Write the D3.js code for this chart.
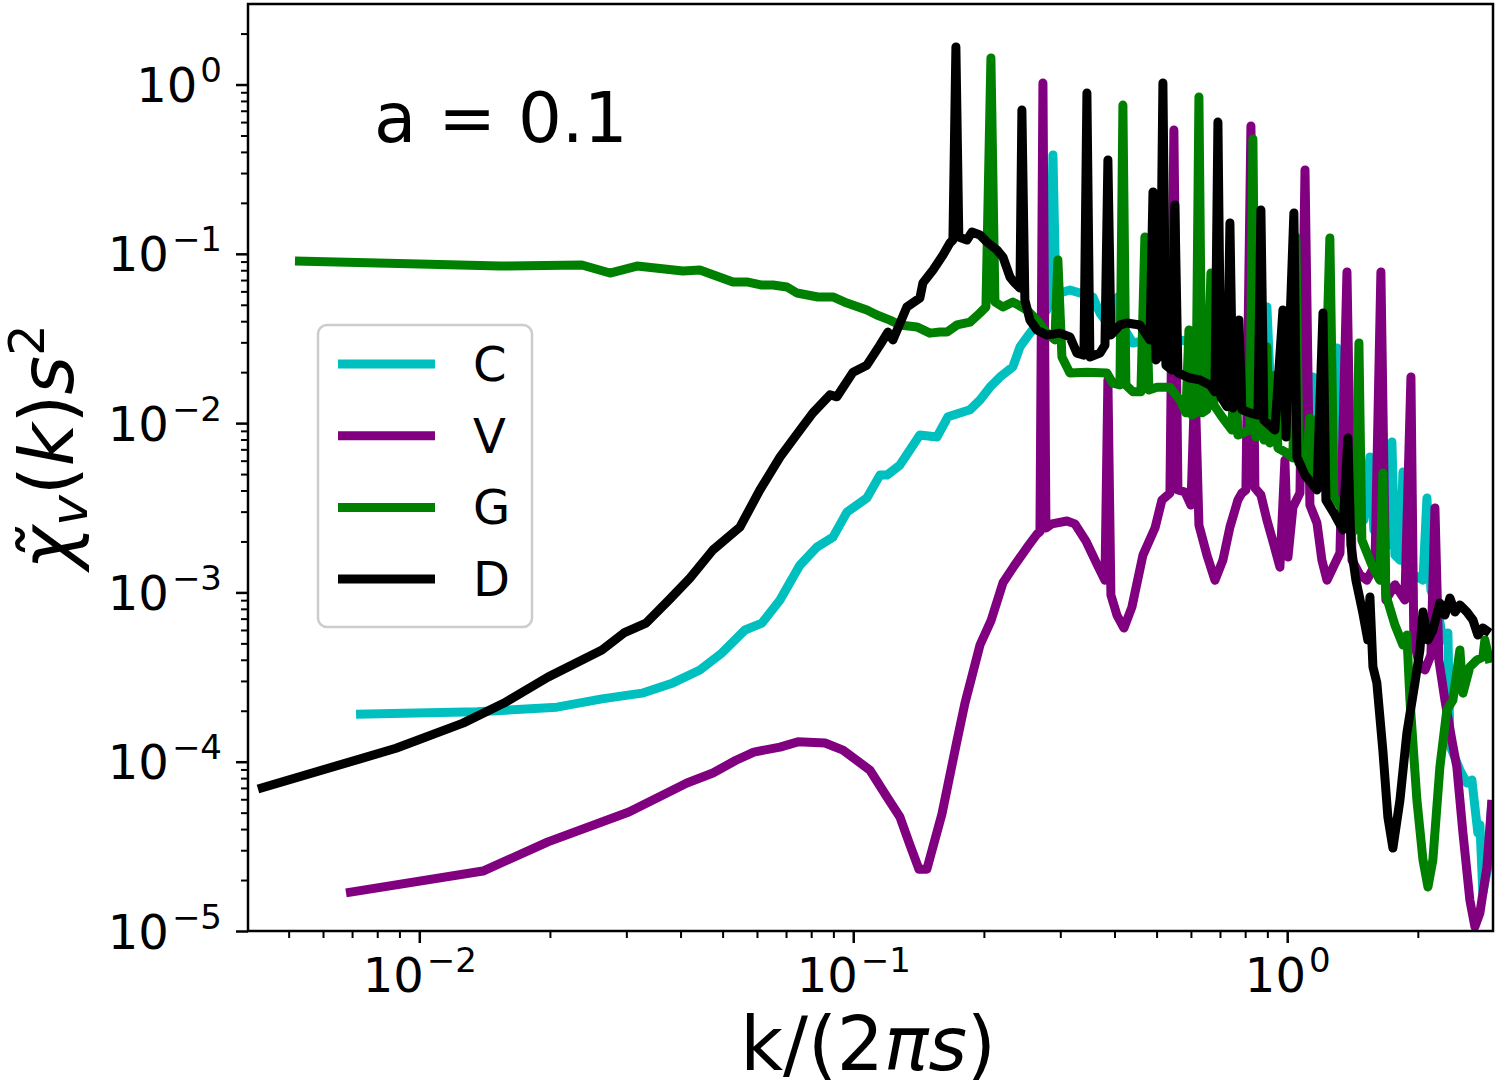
<!DOCTYPE html>
<html>
<head>
<meta charset="utf-8">
<script src="https://cdn.jsdelivr.net/npm/d3@7"></script>
<style>
  html, body { margin: 0; padding: 0; background: #fff; }
  svg { display: block; font-family: "DejaVu Sans", sans-serif; }
</style>
</head>
<body>
<div id="chart"></div>
<script>
// Series names and colours (legend order)
const seriesNames = ["C", "V", "G", "D"];
const seriesColors = ["#00bfbf", "#800080", "#008000", "#000000"];

// [k/(2πs), χ̃v(k)s²]
const seriesC = [
  [0.00715, 1.91e-4], [0.01358, 1.97e-4], [0.02076, 2.10e-4], [0.02636, 2.35e-4],
  [0.0326, 2.54e-4], [0.03841, 2.92e-4], [0.04432, 3.48e-4], [0.04982, 4.39e-4],
  [0.05629, 6.00e-4], [0.06161, 6.59e-4], [0.06779, 9.02e-4], [0.07537, 1.45e-3],
  [0.08247, 1.85e-3], [0.0898, 2.12e-3], [0.0967, 2.98e-3], [0.1075, 3.61e-3],
  [0.1152, 4.93e-3], [0.1196, 4.93e-3], [0.1281, 5.65e-3], [0.1424, 8.5e-3],
  [0.1559, 8.28e-3], [0.1653, 0.0109], [0.1858, 0.0120], [0.1959, 0.0137],
  [0.2065, 0.0163], [0.2178, 0.0187], [0.2333, 0.0215], [0.2422, 0.0282],
  [0.2554, 0.0340], [0.2693, 0.0406], [0.2795, 0.0466], [0.2840, 0.0533],
  [0.2885, 0.383], [0.2931, 0.0571], [0.2994, 0.0587], [0.3157, 0.0611],
  [0.3329, 0.0587], [0.3566, 0.0556], [0.3702, 0.0447], [0.3904, 0.0370],
  [0.4009, 0.0355], [0.4073, 0.0556], [0.4160, 0.0355], [0.4272, 0.0340],
  [0.4411, 0.0297], [0.4751, 0.0310], [0.5090, 0.0289], [0.5367, 0.0297],
  [0.5660, 0.0310], [0.5968, 0.0301], [0.6293, 0.0289], [0.6395, 0.0355],
  [0.6531, 0.0270], [0.6997, 0.0252], [0.7577, 0.0236], [0.8205, 0.0220],
  [0.8837, 0.0206], [0.8979, 0.0485], [0.9123, 0.0192], [0.9621, 0.0168],
  [1.014, 0.0137], [1.070, 0.0104], [1.128, 0.0085], [1.146, 0.0187],
  [1.171, 0.00795], [1.241, 0.00666], [1.281, 0.00605], [1.302, 0.0278],
  [1.323, 0.00528], [1.410, 0.00403], [1.471, 0.00351], [1.502, 0.00268],
  [1.551, 0.0063], [1.584, 0.00234], [1.661, 0.00204], [1.715, 0.00191],
  [1.743, 0.00773], [1.771, 0.00166], [1.819, 0.00155], [1.848, 0.00514],
  [1.877, 0.00141], [1.958, 0.00127], [2.055, 0.00118], [2.099, 0.00361],
  [2.144, 0.00103], [2.224, 7.87e-4], [2.284, 5.23e-4], [2.346, 5.76e-4],
  [2.371, 1.25e-4], [2.500, 8.93e-5], [2.595, 7.48e-5], [2.664, 7.8e-5],
  [2.750, 3.79e-5], [2.780, 4.23e-5], [2.824, 1.68e-5], [2.900, 2.39e-5],
  [2.963, 5.94e-5]
];

const seriesV = [
  [0.006779, 1.68e-5], [0.01402, 2.26e-5], [0.01979, 3.36e-5], [0.03041, 5.05e-5],
  [0.04138, 7.48e-5], [0.04749, 8.58e-5], [0.05367, 1.02e-4], [0.0590, 1.14e-4],
  [0.06779, 1.22e-4], [0.07457, 1.31e-4], [0.0861, 1.29e-4], [0.0947, 1.17e-4],
  [0.1092, 8.93e-5], [0.1196, 6.19e-5], [0.1281, 4.71e-5], [0.1351, 3.22e-5],
  [0.1417, 2.32e-5], [0.1478, 2.32e-5], [0.1601, 4.91e-5], [0.1734, 1.33e-4],
  [0.1809, 2.22e-4], [0.1959, 4.89e-4], [0.2076, 6.78e-4], [0.2213, 1.14e-3],
  [0.2346, 1.43e-3], [0.2540, 1.91e-3], [0.2651, 2.21e-3], [0.2693, 2.28e-3],
  [0.2736, 1.02], [0.2780, 2.40e-3], [0.2870, 2.54e-3], [0.3108, 2.64e-3],
  [0.3242, 2.54e-3], [0.3438, 2.01e-3], [0.3663, 1.43e-3], [0.3802, 1.18e-3],
  [0.3862, 0.0180], [0.3924, 9.65e-4], [0.4051, 7.35e-4], [0.4205, 6.16e-4],
  [0.4387, 8.20e-4], [0.4651, 1.66e-3], [0.4958, 2.40e-3], [0.5144, 3.51e-3],
  [0.5367, 3.86e-3], [0.5481, 0.539], [0.5600, 4.03e-3], [0.5812, 3.92e-3],
  [0.6000, 3.28e-3], [0.6128, 0.0180], [0.6260, 2.50e-3], [0.6531, 1.66e-3],
  [0.6815, 1.18e-3], [0.7109, 1.55e-3], [0.7379, 2.43e-3], [0.7698, 3.51e-3],
  [0.7863, 3.86e-3], [0.8032, 4.03e-3], [0.8249, 0.569], [0.8425, 4.14e-3],
  [0.8698, 3.76e-3], [0.8979, 2.68e-3], [0.9318, 1.91e-3], [0.9621, 1.41e-3],
  [0.9879, 6.05e-3], [1.004, 1.62e-3], [1.031, 3.19e-3], [1.070, 3.86e-3],
  [1.099, 0.313], [1.128, 3.28e-3], [1.171, 2.57e-3], [1.202, 1.55e-3],
  [1.235, 1.18e-3], [1.268, 1.36e-3], [1.323, 1.71e-3], [1.373, 0.0781],
  [1.410, 1.55e-3], [1.471, 1.27e-3], [1.526, 1.18e-3], [1.593, 1.45e-3],
  [1.644, 0.0781], [1.688, 9.02e-4], [1.771, 1.11e-3], [1.867, 9.02e-4],
  [1.928, 0.0187], [1.958, 5.23e-4], [2.022, 3.63e-4], [2.077, 3.48e-4],
  [2.144, 4.27e-4], [2.190, 3.15e-3], [2.236, 3.99e-4], [2.309, 2.31e-4],
  [2.396, 1.34e-4], [2.460, 9.30e-5], [2.541, 3.79e-5], [2.636, 1.52e-5],
  [2.707, 1.06e-5], [2.780, 1.28e-5], [2.885, 2.39e-5], [2.963, 5.94e-5]
];

const seriesG = [
  [0.005171, 0.0907], [0.01, 0.0871], [0.01534, 0.0847], [0.0237, 0.0859],
  [0.0275, 0.0770], [0.03174, 0.0847], [0.04051, 0.0791], [0.04432, 0.0802],
  [0.05282, 0.0681], [0.05719, 0.0681], [0.06161, 0.0654], [0.06531, 0.0654],
  [0.07036, 0.0637], [0.07418, 0.0587], [0.08291, 0.0556], [0.0898, 0.0556],
  [0.0967, 0.0512], [0.1075, 0.0466], [0.1134, 0.0435], [0.1215, 0.0406],
  [0.1281, 0.0380], [0.1402, 0.0370], [0.1502, 0.0340], [0.1585, 0.0345],
  [0.1644, 0.0345], [0.1734, 0.0380], [0.1858, 0.0395], [0.1959, 0.0447],
  [0.2022, 0.0485], [0.2076, 1.434], [0.2121, 0.0519], [0.2213, 0.0485],
  [0.2333, 0.0519], [0.2513, 0.0466], [0.2651, 0.0406], [0.2795, 0.0340],
  [0.2915, 0.0310], [0.2962, 0.0918], [0.3026, 0.0246], [0.3157, 0.0198],
  [0.3455, 0.0200], [0.3841, 0.0198], [0.3965, 0.0172], [0.4117, 0.0168],
  [0.4182, 0.756], [0.4249, 0.0168], [0.4411, 0.0153], [0.4601, 0.0153],
  [0.4699, 0.1257], [0.4800, 0.0157], [0.5012, 0.0163], [0.5367, 0.0163],
  [0.5660, 0.0137], [0.5843, 0.0115], [0.5937, 0.0355], [0.6032, 0.01116],
  [0.6161, 0.0115], [0.6260, 0.844], [0.6362, 0.0115], [0.6531, 0.0120],
  [0.6671, 0.0770], [0.6778, 0.01279], [0.7072, 0.0109], [0.7457, 0.0091],
  [0.7577, 0.0301], [0.7698, 0.0085], [0.7990, 0.00886], [0.8205, 0.0091],
  [0.8337, 0.477], [0.8471, 0.00828], [0.8743, 0.0297], [0.8837, 0.00795],
  [0.8979, 0.0282], [0.9123, 0.00763], [0.9369, 0.0192], [0.9519, 0.00713],
  [0.9984, 0.00666], [1.031, 0.00622], [1.047, 0.1257], [1.064, 0.00581],
  [1.104, 0.00528], [1.128, 0.0107], [1.152, 0.00474], [1.183, 0.0109],
  [1.209, 0.00431], [1.254, 0.1240], [1.281, 0.00366], [1.358, 0.00298],
  [1.440, 0.00234], [1.463, 0.0297], [1.486, 0.00204], [1.567, 0.00145],
  [1.635, 0.00118], [1.661, 0.00507], [1.688, 9.65e-4], [1.771, 6.42e-4],
  [1.848, 4.89e-4], [1.887, 5.60e-4], [1.918, 2.31e-4], [1.990, 5.94e-5],
  [2.055, 2.63e-5], [2.110, 1.82e-5], [2.166, 2.63e-5], [2.248, 9.30e-5],
  [2.333, 2.02e-4], [2.409, 2.31e-4], [2.500, 4.57e-4], [2.541, 2.54e-4],
  [2.636, 3.63e-4], [2.736, 3.99e-4], [2.824, 4.15e-4], [2.854, 5.23e-4],
  [2.931, 3.83e-4]
];

const seriesD = [
  [0.004249, 6.90e-5], [0.008837, 1.20e-4], [0.01261, 1.69e-4], [0.01568, 2.22e-4],
  [0.01979, 3.16e-4], [0.02636, 4.57e-4], [0.02962, 5.76e-4], [0.0333, 6.59e-4],
  [0.03761, 9.02e-4], [0.04204, 1.216e-3], [0.04749, 1.78e-3], [0.05481, 2.43e-3],
  [0.06095, 4.03e-3], [0.06779, 6.30e-3], [0.07537, 9.1e-3], [0.08073, 0.0115],
  [0.0884, 0.0147], [0.0917, 0.0143], [0.0999, 0.0200], [0.1075, 0.0220],
  [0.1152, 0.0289], [0.1202, 0.0345], [0.1234, 0.0310], [0.1329, 0.0485],
  [0.1424, 0.0548], [0.1447, 0.0672], [0.1527, 0.0802], [0.1610, 0.0984],
  [0.1670, 0.1158], [0.1697, 0.1207], [0.1724, 1.665], [0.1751, 0.1257],
  [0.1828, 0.1207], [0.1877, 0.1345], [0.1959, 0.1291], [0.2033, 0.1174],
  [0.2144, 0.1053], [0.2213, 0.0957], [0.2297, 0.0729], [0.2358, 0.0672],
  [0.2422, 0.0628], [0.2447, 0.707], [0.2486, 0.0533], [0.2554, 0.0406],
  [0.2651, 0.0355], [0.2795, 0.0331], [0.2994, 0.0340], [0.3157, 0.0323],
  [0.3277, 0.0259], [0.3401, 0.0252], [0.3455, 0.891], [0.3510, 0.0246],
  [0.3702, 0.0259], [0.3802, 0.0289], [0.3862, 0.358], [0.3924, 0.0331],
  [0.4117, 0.0380], [0.4272, 0.0390], [0.4576, 0.0380], [0.4828, 0.0310],
  [0.4906, 0.232], [0.4985, 0.0236], [0.5090, 0.0252], [0.5171, 1.021],
  [0.5254, 0.0220], [0.5423, 0.0206], [0.5510, 0.194], [0.5600, 0.0198],
  [0.5968, 0.01846], [0.6293, 0.0180], [0.6636, 0.0168], [0.6815, 0.0153],
  [0.6924, 0.600], [0.7035, 0.0143], [0.7264, 0.0125], [0.7379, 0.152],
  [0.7497, 0.0123], [0.7739, 0.0406], [0.7863, 0.0120], [0.8205, 0.0115],
  [0.8561, 0.01116], [0.8698, 0.1814], [0.8837, 0.0104], [0.9369, 0.0091],
  [0.9775, 0.0466], [0.9931, 0.00828], [1.036, 0.1742], [1.053, 0.0063],
  [1.099, 0.00493], [1.171, 0.00403], [1.209, 0.0447], [1.228, 0.00351],
  [1.288, 0.002865], [1.344, 0.00234], [1.380, 0.00817], [1.402, 0.00191],
  [1.440, 0.00118], [1.494, 7.55e-4], [1.534, 5.23e-4], [1.551, 9.39e-4],
  [1.576, 3.63e-4], [1.609, 2.92e-4], [1.661, 1.17e-4], [1.706, 4.71e-5],
  [1.752, 3.09e-5], [1.819, 5.94e-5], [1.887, 1.48e-4], [1.969, 2.92e-4],
  [2.022, 4.57e-4], [2.055, 7.66e-4], [2.110, 5.23e-4], [2.166, 6.00e-4],
  [2.248, 8.66e-4], [2.309, 7.35e-4], [2.371, 9.27e-4], [2.435, 7.66e-4],
  [2.500, 8.42e-4], [2.595, 7.66e-4], [2.679, 6.87e-4], [2.750, 5.60e-4],
  [2.824, 6.16e-4], [2.931, 5.76e-4]
];

// Axis decades and annotation
const xTickExps = [-2, -1, 0];
const yTickExps = [-5, -4, -3, -2, -1, 0];
const xDomain = [0.00403, 2.98];
const yDomain = [1e-5, 2.99];
const annotation = "a = 0.1";

// Dimensions
const width = 1495, height = 1087;
const margin = { left: 248, top: 4, right: 2, bottom: 156 };
const plotW = width - margin.left - margin.right;
const plotH = height - margin.top - margin.bottom;

const svg = d3.select("#chart").append("svg")
  .attr("width", width)
  .attr("height", height);

const g = svg.append("g")
  .attr("transform", `translate(${margin.left},${margin.top})`);

// Scales
const x = d3.scaleLog().domain(xDomain).range([0, plotW]);
const y = d3.scaleLog().domain(yDomain).range([plotH, 0]);

// Minor tick positions: 2..9 times each decade, inside the domain
function minorTicks(domain) {
  const out = [];
  const lo = Math.floor(Math.log10(domain[0]));
  const hi = Math.ceil(Math.log10(domain[1]));
  for (let e = lo; e <= hi; e++) {
    for (let m = 2; m <= 9; m++) {
      const v = m * Math.pow(10, e);
      if (v >= domain[0] * 0.999 && v <= domain[1]) out.push(v);
    }
  }
  return out;
}

// Replace default tick text by 10^n with superscript
function powerLabels(axisG, yShift) {
  axisG.selectAll(".tick text").each(function (d) {
    const e = Math.round(Math.log10(d));
    const t = d3.select(this).text(null).attr("dy", null).attr("y", yShift);
    t.append("tspan").text("10");
    t.append("tspan")
      .attr("dx", 3)
      .attr("dy", -20)
      .attr("font-size", 34)
      .text(e < 0 ? "\u2212" + (-e) : String(e));
  });
}

function styleAxis(axisG, width) {
  axisG.attr("font-family", null).attr("font-size", 48);
  axisG.select(".domain").remove();
  axisG.selectAll(".tick line").attr("stroke", "#000").attr("stroke-width", width);
  axisG.selectAll(".tick text").attr("fill", "#000");
}

// Minor ticks
const xMinor = g.append("g")
  .attr("transform", `translate(0,${plotH})`)
  .call(d3.axisBottom(x).tickValues(minorTicks(xDomain)).tickSize(7).tickSizeOuter(0).tickFormat(""));
styleAxis(xMinor, 2);

const yMinor = g.append("g")
  .call(d3.axisLeft(y).tickValues(minorTicks(yDomain)).tickSize(7).tickSizeOuter(0).tickFormat(""));
styleAxis(yMinor, 2);

// Major ticks with labels
const xAxisG = g.append("g")
  .attr("transform", `translate(0,${plotH})`)
  .call(d3.axisBottom(x).tickValues(xTickExps.map(e => Math.pow(10, e))).tickSize(12).tickSizeOuter(0));
styleAxis(xAxisG, 2.5);
powerLabels(xAxisG, 61);

const yAxisG = g.append("g")
  .call(d3.axisLeft(y).tickValues(yTickExps.map(e => Math.pow(10, e))).tickSize(12).tickSizeOuter(0).tickPadding(14));
styleAxis(yAxisG, 2.5);
powerLabels(yAxisG, 17);

// Clip for the curves
svg.append("defs").append("clipPath")
  .attr("id", "plot-clip")
  .append("rect")
  .attr("width", plotW)
  .attr("height", plotH);

const line = d3.line()
  .x(d => x(d[0]))
  .y(d => y(d[1]));

const allSeries = [seriesC, seriesV, seriesG, seriesD];

g.append("g")
  .attr("clip-path", "url(#plot-clip)")
  .selectAll("path")
  .data(allSeries)
  .join("path")
  .attr("d", line)
  .attr("fill", "none")
  .attr("stroke", (d, i) => seriesColors[i])
  .attr("stroke-width", 9)
  .attr("stroke-linejoin", "round")
  .attr("stroke-linecap", "butt");

// Frame
g.append("rect")
  .attr("width", plotW)
  .attr("height", plotH)
  .attr("fill", "none")
  .attr("stroke", "#000")
  .attr("stroke-width", 2.5);

// Annotation
g.append("text")
  .attr("x", 374 - margin.left)
  .attr("y", 142 - margin.top)
  .attr("font-size", 69)
  .attr("fill", "#000")
  .text(annotation);

// Legend
const legend = g.append("g")
  .attr("transform", `translate(${318 - margin.left},${325 - margin.top})`);

legend.append("rect")
  .attr("width", 214)
  .attr("height", 302)
  .attr("rx", 9)
  .attr("fill", "#fff")
  .attr("fill-opacity", 0.8)
  .attr("stroke", "#cccccc")
  .attr("stroke-width", 2.5);

const rows = legend.selectAll("g.row")
  .data(seriesNames)
  .join("g")
  .attr("class", "row")
  .attr("transform", (d, i) => `translate(0,${39 + i * 71.7})`);

rows.append("line")
  .attr("x1", 20)
  .attr("x2", 117)
  .attr("stroke", (d, i) => seriesColors[i])
  .attr("stroke-width", 9);

rows.append("text")
  .attr("x", 155)
  .attr("y", 17)
  .attr("font-size", 48)
  .attr("fill", "#000")
  .text(d => d);

// Axis titles
const xLabel = svg.append("text")
  .attr("x", 868)
  .attr("y", 1070)
  .attr("text-anchor", "middle")
  .attr("font-size", 74)
  .attr("fill", "#000");
xLabel.append("tspan").text("k/(2");
xLabel.append("tspan").attr("font-style", "italic").text("\u03c0s");
xLabel.append("tspan").text(")");

const yLabel = svg.append("text")
  .attr("transform", "translate(73,447) rotate(-90)")
  .attr("text-anchor", "middle")
  .attr("font-size", 74)
  .attr("fill", "#000");
yLabel.append("tspan").attr("font-style", "italic").text("\u03c7\u0303");
yLabel.append("tspan").attr("font-style", "italic").attr("font-size", 52).attr("dy", 14).text("v");
yLabel.append("tspan").attr("dy", -14).text("(");
yLabel.append("tspan").attr("font-style", "italic").text("k");
yLabel.append("tspan").text(")");
yLabel.append("tspan").attr("font-style", "italic").text("s");
yLabel.append("tspan").attr("font-size", 50).attr("dy", -29).text("2");
</script>
</body>
</html>
